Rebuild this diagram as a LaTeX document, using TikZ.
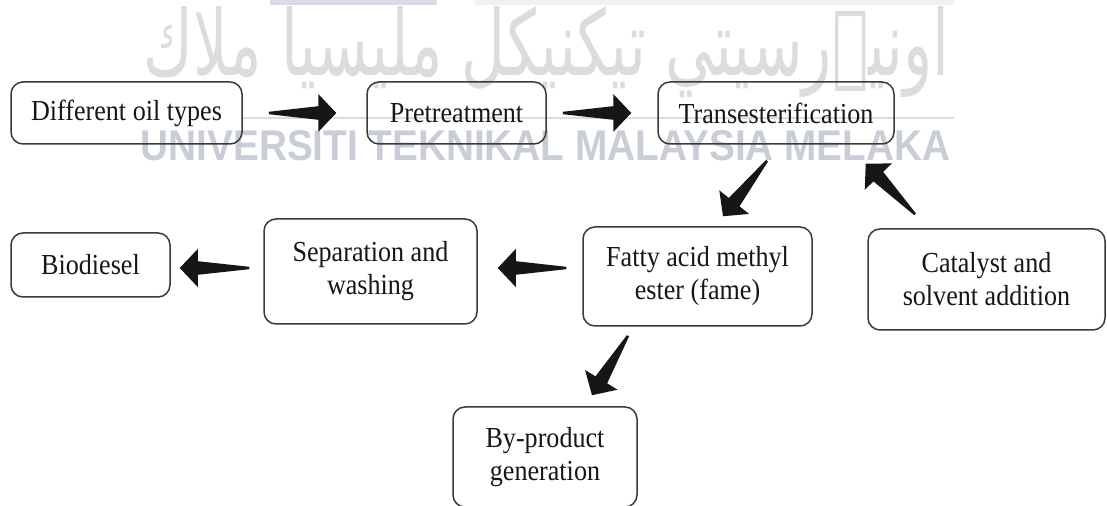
\documentclass[tikz,border=0pt]{standalone}
\usepackage{fontspec}
\setmainfont{Liberation Serif}[FakeStretch=0.9]
\newfontfamily\wmsans{Liberation Sans}[FakeStretch=0.9]
\newfontfamily\jawifont[Script=Arabic]{DejaVu Sans}
\TeXXeTstate=1
\usepackage{graphicx}
\usetikzlibrary{calc}
\definecolor{bdInk}   {HTML}{161616}
\definecolor{bdEdge}  {HTML}{3A3A3A}
\definecolor{bdMark}  {HTML}{C9CDD5}
\definecolor{bdJawi}  {HTML}{DCDCDC}
\definecolor{bdBar}   {HTML}{D9DCE3}
\definecolor{bdBarLt} {HTML}{EFF1F3}

\tikzset{
  stage/.style={draw=bdEdge,line width=0.75pt,rounded corners=6pt,inner sep=0pt,
                align=center,text=bdInk,font=\fontsize{14.5}{16.5}\selectfont},
  wmark/.style={inner sep=0pt,text=bdMark},
}

% tapered block arrow: #1 tail, #2 tip
\newcommand{\blockarrow}[2]{%
  \coordinate (hb) at ($(#2)!9pt!(#1)$);
  \fill[bdInk] ($(#1)!0.6pt!90:(#2)$) -- ($(hb)!3.4pt!90:(#2)$) -- ($(hb)!9.5pt!90:(#2)$)
    -- (#2) -- ($(hb)!9.5pt!-90:(#2)$) -- ($(hb)!3.4pt!-90:(#2)$)
    -- ($(#1)!0.6pt!-90:(#2)$) -- cycle;
}

\begin{document}
\begin{tikzpicture}[x=0.5pt,y=-0.5pt]
        \useasboundingbox (0,0) rectangle (1107,506);
        \clip (0,0) rectangle (1107,506);
        \fill[white] (0,0) rectangle (1107,506);

        % watermark behind the chart
        \fill[bdBar] (270,0) rectangle (437,5);
        \fill[bdBarLt] (475,0) rectangle (954,5);
        \node[wmark,text=bdJawi,anchor=base east] (wmjawi) at (950,76)
          {\scalebox{1}[1.5]{\resizebox{403pt}{!}{\jawifont\beginR اونيۏرسيتي تيكنيكل مليسيا ملاك\endR}}};
        \draw[bdBar,line width=1pt] (241,118) -- (954,118);
        \node[wmark] (wmname) at (545.5,146)
          {\wmsans\bfseries\fontsize{21.5}{24}\selectfont UNIVERSITI TEKNIKAL MALAYSIA MELAKA};

        % process stages
        \node[stage,minimum width=115.5pt,minimum height=31pt] (oil) at (126.5,113) {Different oil types};
        \node[stage,minimum width=89.5pt,minimum height=31pt] (pre) at (456.5,113) {Pretreatment};
        \node[stage,minimum width=118pt,minimum height=31pt] (trans) at (776,113) {Transesterification};
        \node[stage,minimum width=79.5pt,minimum height=32pt] (bio) at (90.5,265) {Biodiesel};
        \node[stage,minimum width=106.5pt,minimum height=52.5pt] (sep) at (370.5,271.5) {Separation and\\washing};
        \node[stage,minimum width=114.5pt,minimum height=49.5pt] (fame) at (697.5,276.5) {Fatty acid methyl\\ester (fame)};
        \node[stage,minimum width=118.5pt,minimum height=50.5pt] (cat) at (986.5,279.5) {Catalyst and\\solvent addition};
        \node[stage,minimum width=92pt,minimum height=50pt] (byp) at (545,457) {By-product\\generation};

        % arrow ends
        \coordinate (oilOut) at ($(oil.east)+(26,0)$);
        \coordinate (preIn) at ($(pre.west)+(-30,0)$);
        \coordinate (preOut) at ($(pre.east)+(16,0)$);
        \coordinate (transIn) at ($(trans.west)+(-26,0)$);
        \coordinate (transOut) at ($(trans.south)+(-9,16)$);
        \coordinate (fameIn) at ($(fame.north)+(25.5,-10)$);
        \coordinate (catOut) at ($(cat.north)+(-71.5,-14)$);
        \coordinate (transCat) at ($(trans.south east)+(-29,19)$);
        \coordinate (fameOut) at ($(fame.west)+(-16,-8.5)$);
        \coordinate (sepIn) at ($(sep.east)+(20,-3.5)$);
        \coordinate (sepOut) at ($(sep.west)+(-14,-3.5)$);
        \coordinate (bioIn) at ($(bio.east)+(9,3)$);
        \coordinate (fameDown) at ($(fame.south)+(-69.5,9)$);
        \coordinate (bypIn) at ($(byp.north)+(47,-11)$);

        \blockarrow{oilOut}{preIn}
        \blockarrow{preOut}{transIn}
        \blockarrow{transOut}{fameIn}
        \blockarrow{catOut}{transCat}
        \blockarrow{fameOut}{sepIn}
        \blockarrow{sepOut}{bioIn}
        \blockarrow{fameDown}{bypIn}
      \end{tikzpicture}
\end{document}
